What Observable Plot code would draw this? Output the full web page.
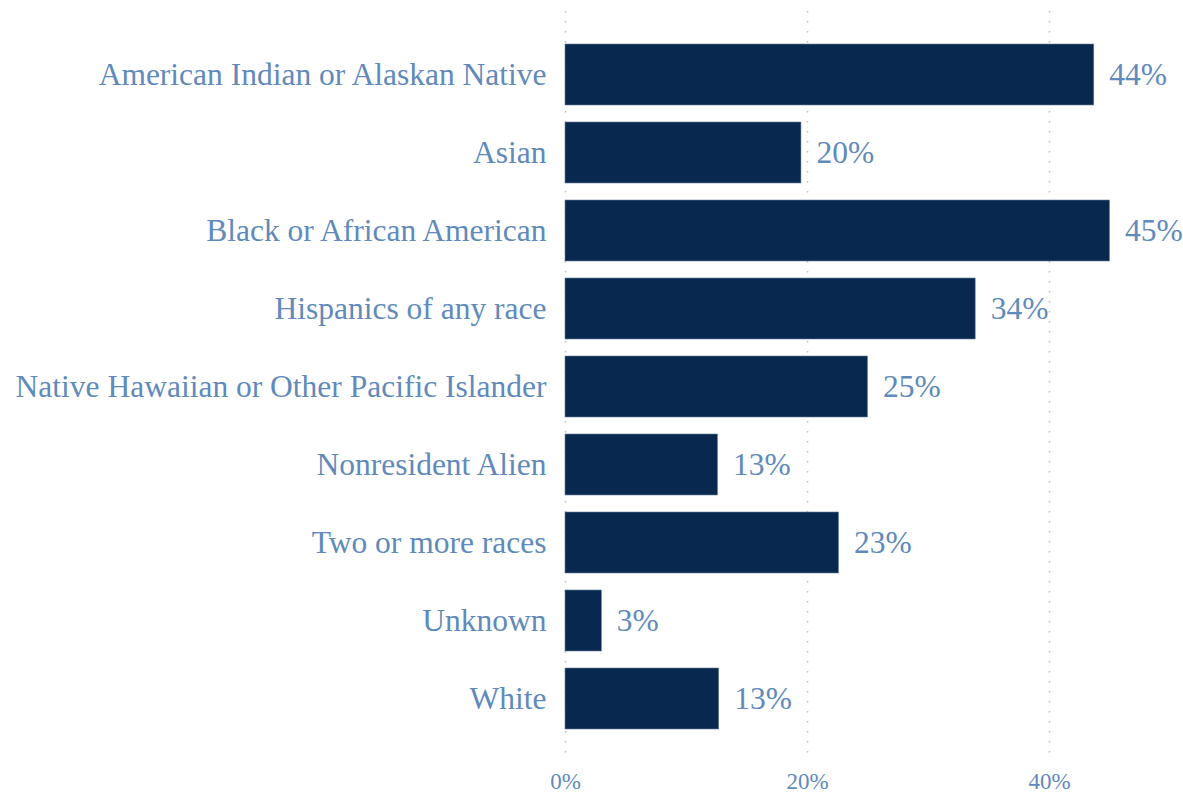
<!DOCTYPE html>
<html><head><meta charset="utf-8">
<script src="https://cdn.jsdelivr.net/npm/d3@7"></script>
<script src="https://cdn.jsdelivr.net/npm/@observablehq/plot@0.6"></script>
<style>body{margin:0;background:#fff}</style>
</head><body><div id="chart"></div>
<script>
const categories = ["American Indian or Alaskan Native","Asian","Black or African American","Hispanics of any race","Native Hawaiian or Other Pacific Islander","Nonresident Alien","Two or more races","Unknown","White"];
const values = [43.7, 19.5, 45.0, 33.9, 25.0, 12.6, 22.6, 3.0, 12.7];
const xTicks = [0, 20, 40];
const data = categories.map((c, i) => ({category: c, value: values[i]}));
const labelColor = "#5f8abb";
const chart = Plot.plot({
  width: 1183, height: 795,
  marginLeft: 565, marginRight: 73.5, marginTop: 11, marginBottom: 34,
  style: {fontFamily: "'Liberation Serif', 'Times New Roman', serif", background: "#fff"},
  x: {domain: [0, 45], ticks: xTicks, tickFormat: d => d + "%", label: null, tickSize: 0},
  y: {domain: categories, paddingInner: 0.22, paddingOuter: 0.38, label: null, tickSize: 0},
  marks: [
    Plot.ruleX(xTicks, {stroke: "#c0c0c0", strokeWidth: 1.6, strokeDasharray: "1.6,8.4"}),
    Plot.barX(data, {x: "value", y: "category", fill: "#08284f", stroke: "#6a7f99", strokeWidth: 0.6}),
    Plot.text(data, {x: "value", y: "category", text: d => Math.round(d.value) + "%", textAnchor: "start", dx: 15, fill: labelColor, fontSize: 31.5}),
    Plot.axisY({tickSize: 0, tickPadding: 19, fontSize: 31.5, color: labelColor, label: null}),
    Plot.axisX(xTicks, {tickSize: 0, tickPadding: 11, fontSize: 23, color: labelColor, tickFormat: d => d + "%", label: null})
  ]
});
document.getElementById("chart").append(chart);
</script></body></html>
